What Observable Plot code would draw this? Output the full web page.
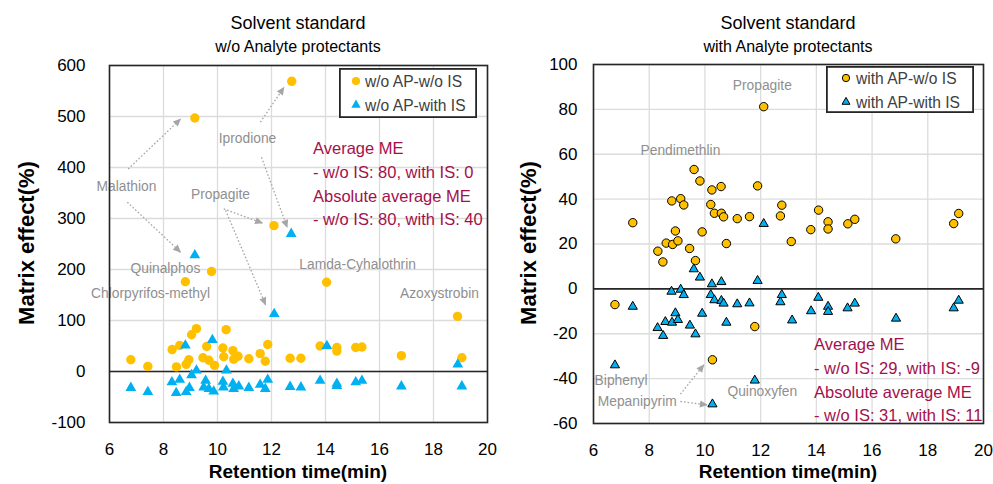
<!DOCTYPE html>
<html>
<head>
<meta charset="utf-8">
<script src="https://cdn.jsdelivr.net/npm/d3@7"></script>
<script src="https://cdn.jsdelivr.net/npm/@observablehq/plot@0.6"></script>
<style>
  body { margin: 0; background: #fff; }
  #wrap { position: relative; width: 993px; height: 484px; overflow: hidden; background: #fff;
          font-family: "Liberation Sans", Arial, sans-serif; }
  .t { position: absolute; white-space: nowrap; line-height: 1; }
</style>
</head>
<body>
<div id="wrap"></div>
<script>
// ---------------- DATA ----------------
const xTicks = [6, 8, 10, 12, 14, 16, 18, 20];
const leftYTicks = [-100, 0, 100, 200, 300, 400, 500, 600];
const rightYTicks = [-60, -40, -20, 0, 20, 40, 60, 80, 100];

// Left panel: w/o Analyte protectants
const leftNoIS_rt = [6.79,7.42,8.32,8.48,8.6,8.81,8.84,8.94,9.04,9.16, 9.22,9.46,9.6,9.68,9.78,9.89,10.2,10.23,10.32,10.57, 10.6,10.76,11.16,11.58,11.77,11.86,12.09,12.69,12.75,13.09, 13.8,14.04,14.42,14.42,15.12,15.35,16.81,18.89,19.05];
const leftNoIS_me = [23,10,43,9,51,176,14,23,72,497, 84,27,49,22,196,12,46,29,82,41, 24,30,25,35,20,53,286,26,569,26, 50,175,47,40,47,48,31,108,27];
const leftIS_rt = [6.79,7.42,8.31,8.47,8.6,8.81,8.84,8.96,9.04,9.16, 9.22,9.49,9.56,9.68,9.81,9.86,10.2,10.22,10.33,10.57, 10.6,10.79,11.16,11.58,11.77,11.86,12.1,12.69,12.73,13.09, 13.8,14.05,14.42,14.42,15.12,15.35,16.81,18.9,19.05];
const leftIS_me = [-32,-40,-21,-42,-16,51,-40,-32,-7,228, 2,-31,-18,-34,62,-39,-20,-31,2,-24, -34,-29,-32,-26,-34,-16,113,-30,270,-31, -18,50,-24,-28,-21,-18,-29,14,-29];

// Right panel: with Analyte protectants
const rightNoIS_rt = [6.77,7.41,8.31,8.49,8.61,8.81,8.84,8.94,9.03,9.13, 9.24,9.45,9.61,9.66,9.82,9.9,10.21,10.25,10.27,10.34, 10.58,10.59,10.67,10.77,11.16,11.6,11.79,11.89,12.11,12.71, 12.76,13.1,13.8,14.08,14.42,14.42,15.13,15.38,16.85,18.93, 19.11];
const rightNoIS_me = [-7,29.5,16.8,12,20.4,39.2,19.8,25.8,21.4,40.2, 37.4,18,53.2,12.6,48.1,25.4,37.6,44.1,-31.6,33.7, 45.6,33.7,32.1,20.2,31.3,32.2,-16.8,45.9,81.2,32.5, 37.3,21.1,26.4,35.1,29.9,26.7,29,31,22.3,29.1, 33.6];
const rightIS_rt = [6.77,7.41,8.3,8.5,8.58,8.8,8.82,8.94,9.03,9.13, 9.24,9.46,9.6,9.66,9.82,9.9,10.21,10.25,10.27,10.34, 10.59,10.59,10.67,10.77,11.16,11.6,11.79,11.89,12.11,12.71, 12.76,13.13,13.81,14.07,14.42,14.42,15.12,15.38,16.86,18.93, 19.11];
const rightIS_me = [-34,-7.9,-17.4,-20.9,-14.7,-1.2,-15,-10.8,-13.8,-0.3, -2.7,-16.3,8.8,-20.2,5.1,-11,-2.7,2.1,-51.4,-5, 3.1,-5.3,-6.5,-15,-6.8,-6.4,-40.8,3.6,29,-5.9, -2.7,-14,-9.9,-3.9,-7.9,-10.2,-8.6,-6.5,-13.2,-8.6, -5.2];

// Annotations (data units)
const leftLabels = ["Malathion","Iprodione","Propagite","Quinalphos","Chlorpyrifos-methyl","Lamda-Cyhalothrin","Azoxystrobin"];
const leftLabelX = [6.63, 11.11, 10.11, 8.07, 7.52, 15.19, 18.22];
const leftLabelY = [363, 457, 347, 202, 153, 210, 153];
const leftArrowX1 = [6.69, 6.66, 11.59, 11.63, 10.23, 10.3];
const leftArrowY1 = [397, 332, 489, 420, 319, 316];
const leftArrowX2 = [8.63, 8.63, 12.46, 12.58, 11.66, 11.78];
const leftArrowY2 = [495, 234, 557, 283, 291, 131];

const rightLabels = ["Propagite","Pendimethlin","Biphenyl","Mepanipyrim","Quinoxyfen"];
const rightLabelX = [12.06, 9.12, 6.99, 7.57, 12.06];
const rightLabelY = [90.8, 61.5, -40.7, -50.2, -45.8];
const rightArrowX1 = [9.12, 9.12];
const rightArrowY1 = [-46.9, -50.2];
const rightArrowX2 = [9.96, 10.08];
const rightArrowY2 = [-33.9, -51.7];

const titles = ["Solvent standard", "Solvent standard"];
const subtitles = ["w/o Analyte protectants", "with Analyte protectants"];
const legendLeft = ["w/o AP-w/o IS", "w/o AP-with IS"];
const legendRight = ["with AP-w/o IS", "with AP-with IS"];
const statsLeft = ["Average ME", "- w/o IS: 80, with IS: 0", "Absolute average ME", "- w/o IS: 80, with IS: 40"];
const statsRight = ["Average ME", "- w/o IS: 29, with IS: -9", "Absolute average ME", "- w/o IS: 31, with IS: 11"];
const xLabel = "Retention time(min)";
const yLabel = "Matrix effect(%)";

// ---------------- STYLE ----------------
const FONT = "'Liberation Sans', Arial, sans-serif";
const GOLD = "#FFC000", BLUE = "#00B0F0";
const STAT = "#a50f4b", ANNO = "#8f8f8f", ARROW = "#a6a6a6";
const wrap = d3.select("#wrap");

function place(text, x, y, css, anchor) {
  const tx = anchor === "start" ? "0" : anchor === "end" ? "-100%" : "-50%";
  const d = wrap.append("div").attr("class", "t").text(text)
    .style("left", x + "px").style("top", y + "px")
    .style("transform", `translate(${tx},-50%)` + (css.rotate ? " rotate(-90deg)" : ""));
  for (const k in css) if (k !== "rotate") d.style(k, css[k]);
  return d;
}

function addArrowheads(svg, id) {
  const ns = "http://www.w3.org/2000/svg";
  const defs = document.createElementNS(ns, "defs");
  defs.innerHTML = `<marker id="${id}" viewBox="0 0 10 10" refX="9" refY="5" markerWidth="9" markerHeight="8" markerUnits="userSpaceOnUse" orient="auto"><path d="M0,0.5L10,5L0,9.5z" fill="${ARROW}"/></marker>`;
  svg.insertBefore(defs, svg.firstChild);
  svg.querySelectorAll('g[aria-label="link"] path').forEach(p => p.setAttribute("marker-end", `url(#${id})`));
}

function panel(cfg) {
  const circles = cfg.rtA.map((x, i) => ({x, y: cfg.meA[i]}));
  const tris = cfg.rtB.map((x, i) => ({x, y: cfg.meB[i]}));
  const labels = cfg.labels.map((t, i) => ({t, x: cfg.labelX[i], y: cfg.labelY[i]}));
  const arrows = cfg.ax1.map((d, i) => ({x1: d, y1: cfg.ay1[i], x2: cfg.ax2[i], y2: cfg.ay2[i]}));
  const fmt = d => String(d);
  const svg = Plot.plot({
    width: cfg.width, height: 484,
    marginLeft: cfg.ml, marginRight: cfg.mr, marginTop: cfg.mt, marginBottom: cfg.mb,
    x: {domain: [6, 20]},
    y: {domain: cfg.yDomain},
    style: {fontFamily: FONT, fontSize: "17px", color: "#000", background: "transparent", overflow: "visible"},
    marks: [
      Plot.gridX(xTicks, {stroke: "#dcdcdc", strokeOpacity: 1, strokeWidth: 1.3}),
      Plot.gridY(cfg.yTicks, {stroke: "#dcdcdc", strokeOpacity: 1, strokeWidth: 1.3}),
      Plot.ruleY([0], {stroke: "#262626", strokeWidth: 1.6}),
      Plot.link(arrows, {x1: "x1", y1: "y1", x2: "x2", y2: "y2", stroke: ARROW, strokeWidth: 1.3, strokeDasharray: "1.6,2"}),
      Plot.text(labels, {x: "x", y: "y", text: "t", fill: ANNO, fontSize: cfg.annoSize, fontFamily: FONT}),
      Plot.dot(circles, {x: "x", y: "y", r: cfg.rc, symbol: "circle", fill: GOLD, stroke: cfg.stroke, strokeWidth: 1}),
      Plot.dot(tris, {x: "x", y: "y", r: cfg.rt, symbol: "triangle", fill: BLUE, stroke: cfg.stroke, strokeWidth: 1}),
      Plot.frame({stroke: "#262626", strokeWidth: 1.6}),
      Plot.axisX({ticks: xTicks, tickSize: 0, tickPadding: 20, label: null, fontSize: 17, tickFormat: fmt}),
      Plot.axisY({ticks: cfg.yTicks, tickSize: 0, tickPadding: cfg.yPad, label: null, fontSize: 17, tickFormat: fmt})
    ]
  });
  addArrowheads(svg, cfg.id);
  d3.select(svg).style("position", "absolute").style("left", cfg.left + "px").style("top", "0px");
  wrap.node().appendChild(svg);

  // legend
  const lg = wrap.append("svg").style("position", "absolute")
    .style("left", cfg.legend.x + "px").style("top", cfg.legend.y + "px")
    .attr("width", cfg.legend.w).attr("height", cfg.legend.h);
  lg.append("rect").attr("x", 0.9).attr("y", 0.9).attr("width", cfg.legend.w - 1.8).attr("height", cfg.legend.h - 1.8)
    .attr("fill", "#fff").attr("stroke", "#262626").attr("stroke-width", 1.8);
  const syms = [d3.symbolCircle, d3.symbolTriangle];
  const sizes = [Math.PI * cfg.rc * cfg.rc, Math.PI * cfg.rt * cfg.rt];
  const fills = [GOLD, BLUE];
  cfg.legendText.forEach((txt, i) => {
    const cy = cfg.legend.rows[i];
    lg.append("path").attr("d", d3.symbol(syms[i], sizes[i] * 0.75)())
      .attr("transform", `translate(${cfg.legend.sx},${cy})`)
      .attr("fill", fills[i]).attr("stroke", cfg.stroke).attr("stroke-width", 1);
    lg.append("text").attr("x", cfg.legend.tx).attr("y", cy).attr("dy", "0.36em")
      .attr("font-family", FONT).attr("font-size", 15.6).attr("fill", "#404040").text(txt);
  });

  // titles & axis labels
  place(cfg.title, cfg.cx, 23, {"font-size": "18px", color: "#000"});
  place(cfg.subtitle, cfg.cx, 47, {"font-size": "16px", color: "#000"});
  place(xLabel, cfg.cx, 471, {"font-size": "19px", "font-weight": "bold", color: "#000"});
  place(yLabel, cfg.ylx, 243, {"font-size": "22px", "font-weight": "bold", color: "#000", rotate: true});
  cfg.stats.forEach((s, i) => place(s, cfg.statX, cfg.statY[i], {"font-size": "16.5px", color: STAT}, "start"));
}

panel({
  id: "ahL", left: 0, width: 496, ml: 109, mr: 9, mt: 65, mb: 62,
  yDomain: [-100, 600], yTicks: leftYTicks, yPad: 24,
  rtA: leftNoIS_rt, meA: leftNoIS_me, rtB: leftIS_rt, meB: leftIS_me,
  labels: leftLabels, labelX: leftLabelX, labelY: leftLabelY,
  ax1: leftArrowX1, ay1: leftArrowY1, ax2: leftArrowX2, ay2: leftArrowY2,
  rc: 4.7, rt: 4.0, stroke: "none", annoSize: 13.8,
  legend: {x: 339, y: 68, w: 138, h: 50, sx: 17, tx: 26, rows: [13, 37]},
  legendText: legendLeft,
  title: titles[0], subtitle: subtitles[0], cx: 298, ylx: 27,
  stats: statsLeft, statX: 313, statY: [148, 172, 196, 219]
});

panel({
  id: "ahR", left: 496, width: 497, ml: 97, mr: 10, mt: 64, mb: 61,
  yDomain: [-60, 100], yTicks: rightYTicks, yPad: 16,
  rtA: rightNoIS_rt, meA: rightNoIS_me, rtB: rightIS_rt, meB: rightIS_me,
  labels: rightLabels, labelX: rightLabelX, labelY: rightLabelY,
  ax1: rightArrowX1, ay1: rightArrowY1, ax2: rightArrowX2, ay2: rightArrowY2,
  rc: 4.2, rt: 3.4, stroke: "#000", annoSize: 13.8,
  legend: {x: 826, y: 66, w: 148, h: 47, sx: 20, tx: 30, rows: [12, 36]},
  legendText: legendRight,
  title: titles[1], subtitle: subtitles[1], cx: 788, ylx: 529,
  stats: statsRight, statX: 814, statY: [344, 368, 392, 415]
});
</script>
</body>
</html>
